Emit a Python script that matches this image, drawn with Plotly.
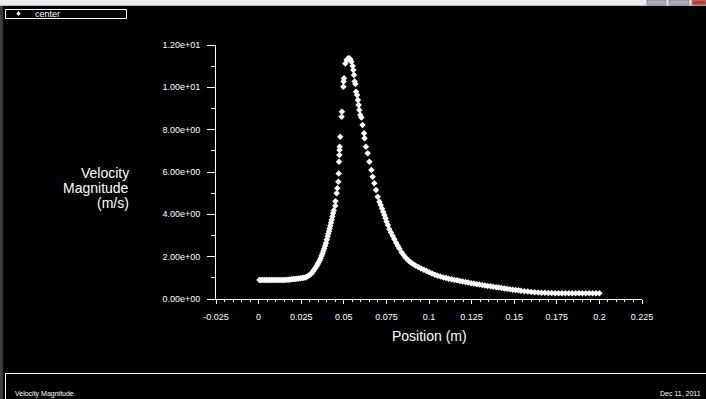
import plotly.graph_objects as go

# ---- data ----
position = [
    0.0005, 0.0015, 0.0025, 0.0035, 0.0045, 0.0055, 0.0065, 0.0075, 0.0085, 0.0095,
    0.0105, 0.0115, 0.0125, 0.0135, 0.0145, 0.0155, 0.0165, 0.0175, 0.0185, 0.0195,
    0.0205, 0.0215, 0.0225, 0.0235, 0.0245, 0.0255, 0.0265, 0.0275, 0.0285, 0.0295,
    0.0305, 0.0312, 0.0319, 0.0326, 0.0333, 0.0340, 0.0346, 0.0352, 0.0358, 0.0364,
    0.0370, 0.0375, 0.0380, 0.0385, 0.0390, 0.0395, 0.0400, 0.0405, 0.0409, 0.0413,
    0.0417, 0.0421, 0.0425, 0.0429, 0.0433, 0.0437, 0.0441,
    0.0450, 0.0451, 0.0458, 0.0462, 0.0468, 0.0470, 0.0472, 0.0474, 0.0475, 0.0476,
    0.0479, 0.0487, 0.0489, 0.0497, 0.0499, 0.0501,
    0.0509, 0.0517, 0.0523, 0.0528, 0.0533, 0.0538, 0.0544, 0.0552, 0.0556, 0.0560,
    0.0564, 0.0568, 0.0572, 0.0578, 0.0583, 0.0587, 0.0591, 0.0597, 0.0603, 0.0610,
    0.0619, 0.0622, 0.0630, 0.0640, 0.0650, 0.0662, 0.0669, 0.0679, 0.0689, 0.0699,
    0.0709, 0.0716, 0.0724, 0.0731, 0.0738, 0.0745, 0.0751, 0.0759, 0.0767, 0.0777,
    0.0787, 0.0797, 0.0807, 0.0817, 0.0826, 0.0840, 0.0853, 0.0866, 0.0879, 0.0891,
    0.0904, 0.0920, 0.0937, 0.0953, 0.0970, 0.0986, 0.1002, 0.1018, 0.1035, 0.1051,
    0.1067, 0.1084, 0.1100, 0.1116, 0.1133, 0.1149, 0.1165, 0.1181, 0.1197, 0.1214,
    0.1230, 0.1247, 0.1263, 0.1280, 0.1296, 0.1312, 0.1328, 0.1344, 0.1361, 0.1377,
    0.1394, 0.1410, 0.1426, 0.1442, 0.1458, 0.1475, 0.1491, 0.1508, 0.1525, 0.1540,
    0.1560, 0.1580, 0.1600, 0.1620, 0.1640, 0.1660, 0.1680, 0.1700, 0.1720, 0.1740,
    0.1760, 0.1780, 0.1800, 0.1820, 0.1840, 0.1860, 0.1880, 0.1900, 0.1920, 0.1940,
    0.1960, 0.1980, 0.2000,
]
velocity = [
    0.90, 0.90, 0.90, 0.90, 0.90, 0.90, 0.90, 0.90, 0.90, 0.90,
    0.90, 0.90, 0.90, 0.90, 0.90, 0.90, 0.91, 0.91, 0.92, 0.93,
    0.94, 0.95, 0.96, 0.97, 0.98, 0.99, 1.00, 1.02, 1.06, 1.11,
    1.17, 1.23, 1.30, 1.38, 1.46, 1.55, 1.64, 1.73, 1.82, 1.93,
    2.04, 2.15, 2.27, 2.39, 2.51, 2.65, 2.80, 2.95, 3.08, 3.20,
    3.33, 3.46, 3.60, 3.75, 3.90, 4.05, 4.18,
    4.40, 4.62, 5.00, 5.23, 5.54, 5.93, 6.49, 6.80, 7.04, 7.19,
    7.67, 8.61, 8.85, 10.03, 10.27, 10.43,
    11.13, 11.29, 11.35, 11.37, 11.36, 11.32, 11.21, 11.01, 10.82, 10.58,
    10.27, 10.16, 9.79, 9.64, 9.40, 9.16, 8.93, 8.69, 8.58, 8.22,
    7.83, 7.59, 7.19, 6.88, 6.49, 6.09, 5.78, 5.47, 5.15, 4.83,
    4.60, 4.44, 4.28, 4.12, 3.97, 3.81, 3.65, 3.50, 3.30, 3.14,
    2.98, 2.82, 2.66, 2.52, 2.38, 2.20, 2.06, 1.93, 1.82, 1.74,
    1.66, 1.58, 1.51, 1.44, 1.38, 1.32, 1.26, 1.20, 1.15, 1.10,
    1.06, 1.02, 0.99, 0.96, 0.93, 0.90, 0.88, 0.85, 0.83, 0.80,
    0.78, 0.75, 0.73, 0.70, 0.68, 0.66, 0.64, 0.62, 0.60, 0.58,
    0.56, 0.54, 0.52, 0.50, 0.48, 0.46, 0.44, 0.42, 0.41, 0.39,
    0.37, 0.35, 0.33, 0.32, 0.31, 0.30, 0.29, 0.28, 0.28, 0.27,
    0.27, 0.27, 0.27, 0.27, 0.27, 0.27, 0.27, 0.27, 0.27, 0.27,
    0.27, 0.27, 0.27,
]
series_name = "center"

x_tickvals = [-0.025, 0, 0.025, 0.05, 0.075, 0.1, 0.125, 0.15, 0.175, 0.2, 0.225]
x_ticktext = ["-0.025", "0", "0.025", "0.05", "0.075", "0.1", "0.125", "0.15", "0.175", "0.2", "0.225"]
y_tickvals = [0, 2, 4, 6, 8, 10, 12]
y_ticktext = ["0.00e+00", "2.00e+00", "4.00e+00", "6.00e+00", "8.00e+00", "1.00e+01", "1.20e+01"]

x_title = "Position (m)"
y_title_lines = ["Velocity", "Magnitude", "(m/s)"]
footer_left = "Velocity Magnitude"
footer_right = "Dec 11, 2011"

# ---- layout geometry (pixels) ----
W, H = 706, 399
L, R, T, B = 216, 642, 45, 299
PW, PH = R - L, B - T


def px(x):
    return (x - L) / PW


def py(y):
    return (B - y) / PH


FONT = "Liberation Sans, Arial, sans-serif"
WHITE = "#ffffff"

fig = go.Figure()
fig.add_trace(go.Scatter(
    x=position, y=velocity, mode="markers", name=series_name,
    marker=dict(symbol="diamond", size=5, color=WHITE, line=dict(width=0)),
    showlegend=False, cliponaxis=False,
))

shapes = []
annotations = []

# window title bar strip
shapes.append(dict(type="rect", xref="paper", yref="paper", x0=px(0), x1=px(W), y0=py(0), y1=py(6),
                   fillcolor="#ececf0", line=dict(width=0), layer="above"))
shapes.append(dict(type="line", xref="paper", yref="paper", x0=px(0), x1=px(W), y0=py(5.5), y1=py(5.5),
                   line=dict(color="#b8bcc8", width=1), layer="above"))
for (a, b, c) in [(647, 666, "#a9adbd"), (669, 689, "#a9adbd"), (692, 706, "#d0342c")]:
    shapes.append(dict(type="rect", xref="paper", yref="paper", x0=px(a), x1=px(b), y0=py(0), y1=py(5),
                       fillcolor=c, line=dict(color="#8a8e9c", width=1), layer="above"))
# left border strip
shapes.append(dict(type="rect", xref="paper", yref="paper", x0=px(0), x1=px(3), y0=py(6), y1=py(H),
                   fillcolor="#3c3c3c", line=dict(width=0), layer="above"))

# legend box
shapes.append(dict(type="rect", xref="paper", yref="paper", x0=px(5.5), x1=px(126.5), y0=py(9.5), y1=py(18.5),
                   line=dict(color=WHITE, width=1), fillcolor="rgba(0,0,0,0)"))
cx, cy, r = 18.5, 13.5, 2.6
shapes.append(dict(type="path", xref="paper", yref="paper",
                   path=f"M {px(cx)},{py(cy - r)} L {px(cx + r * 0.8)},{py(cy)} L {px(cx)},{py(cy + r)} L {px(cx - r * 0.8)},{py(cy)} Z",
                   fillcolor=WHITE, line=dict(width=0)))
annotations.append(dict(text=series_name, xref="paper", yref="paper", x=px(33), y=py(14),
                        xanchor="left", yanchor="middle", showarrow=False,
                        font=dict(family=FONT, size=9, color=WHITE)))

# bottom panel
shapes.append(dict(type="line", xref="paper", yref="paper", x0=px(5.5), x1=px(W), y0=py(373.5), y1=py(373.5),
                   line=dict(color=WHITE, width=1)))
shapes.append(dict(type="line", xref="paper", yref="paper", x0=px(5.5), x1=px(5.5), y0=py(373.5), y1=py(H),
                   line=dict(color=WHITE, width=1)))
annotations.append(dict(text=footer_left, xref="paper", yref="paper", x=px(13), y=py(393.5),
                        xanchor="left", yanchor="middle", showarrow=False,
                        font=dict(family=FONT, size=7, color=WHITE)))
annotations.append(dict(text=footer_right, xref="paper", yref="paper", x=px(703), y=py(393.5),
                        xanchor="right", yanchor="middle", showarrow=False,
                        font=dict(family=FONT, size=7, color=WHITE)))

# axis titles
annotations.append(dict(text=x_title, xref="paper", yref="paper", x=0.5, y=py(336),
                        xanchor="center", yanchor="middle", showarrow=False,
                        font=dict(family=FONT, size=14, color=WHITE)))
for i, line in enumerate(y_title_lines):
    annotations.append(dict(text=line, xref="paper", yref="paper", x=px(131), y=py(173 + 15 * i),
                            xanchor="right", yanchor="middle", showarrow=False,
                            font=dict(family=FONT, size=14, color=WHITE)))

fig.update_layout(
    width=W, height=H, autosize=False,
    margin=dict(l=L, r=W - R, t=T, b=H - B, pad=0, autoexpand=False),
    paper_bgcolor="#000000", plot_bgcolor="#000000",
    showlegend=False,
    shapes=shapes, annotations=annotations,
    xaxis=dict(
        range=[-0.025, 0.225], showgrid=False, zeroline=False,
        showline=True, linecolor=WHITE, linewidth=1,
        tickmode="array", tickvals=x_tickvals, ticktext=x_ticktext,
        ticks="outside", ticklen=4, tickcolor=WHITE, tickwidth=1,
        minor=dict(dtick=0.005, tick0=0, ticks="outside", ticklen=2, tickcolor=WHITE, showgrid=False),
        tickfont=dict(family=FONT, size=9, color=WHITE), ticklabelstandoff=5,
    ),
    yaxis=dict(
        range=[0, 12], showgrid=False, zeroline=False,
        showline=True, linecolor=WHITE, linewidth=1,
        tickmode="array", tickvals=y_tickvals, ticktext=y_ticktext,
        ticks="outside", ticklen=8, tickcolor=WHITE, tickwidth=1,
        minor=dict(dtick=1, tick0=0, ticks="outside", ticklen=4, tickcolor=WHITE, showgrid=False),
        tickfont=dict(family=FONT, size=9, color=WHITE), ticklabelstandoff=5,
    ),
)

fig.write_html("out.html")
